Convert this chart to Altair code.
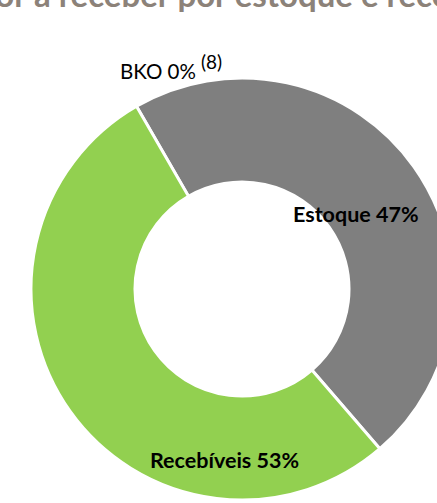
import math
import altair as alt
import pandas as pd

# ---- data ----
categories = ["BKO", "Estoque", "Recebíveis"]
values = [0, 47, 53]
labels = ["BKO 0%", "Estoque 47%", "Recebíveis 53%"]
note = "(8)"
title_text = "Valor a receber por estoque e recebíveis"

# ---- style ----
colors = ["#7f7f7f", "#7f7f7f", "#92d050"]
start = math.radians(-30)
cx, cy = 242, 289
font = "Lato"

df = pd.DataFrame({"cat": categories, "val": values, "idx": list(range(len(categories)))})

donut = alt.Chart(df).mark_arc(
    outerRadius=211, innerRadius=107, stroke="white", strokeWidth=3
).encode(
    theta=alt.Theta("val:Q", stack=True, scale=alt.Scale(range=[start, start + 2 * math.pi])),
    color=alt.Color("cat:N", scale=alt.Scale(domain=categories, range=colors), legend=None),
    order=alt.Order("idx:Q"),
    x=alt.value(cx),
    y=alt.value(cy),
)

label_pos = {
    "BKO 0%": (120, 79, "normal", 20.5),
    "Estoque 47%": (293, 222, "bold", 21.5),
    "Recebíveis 53%": (150, 468, "bold", 21.5),
}

layers = [donut]
for lab in labels:
    x, y, w, s = label_pos[lab]
    layers.append(
        alt.Chart(pd.DataFrame({"t": [lab]})).mark_text(
            align="left", baseline="alphabetic", font=font, fontSize=s,
            fontWeight=w, color="black"
        ).encode(text="t:N", x=alt.value(x), y=alt.value(y))
    )

layers.append(
    alt.Chart(pd.DataFrame({"t": [note]})).mark_text(
        align="left", baseline="alphabetic", font=font, fontSize=19, color="black"
    ).encode(text="t:N", x=alt.value(201), y=alt.value(69))
)

layers.append(
    alt.Chart(pd.DataFrame({"t": [title_text]})).mark_text(
        align="left", baseline="alphabetic", font=font, fontSize=33,
        fontWeight="bold", color="#8c8279"
    ).encode(text="t:N", x=alt.value(-50), y=alt.value(7))
)

chart = alt.layer(*layers).properties(
    width=437, height=503, padding=0,
    autosize=alt.AutoSizeParams(type="none"),
).configure_view(strokeWidth=0)

chart.save("out.html", embed_options={"renderer": "svg", "actions": False})
